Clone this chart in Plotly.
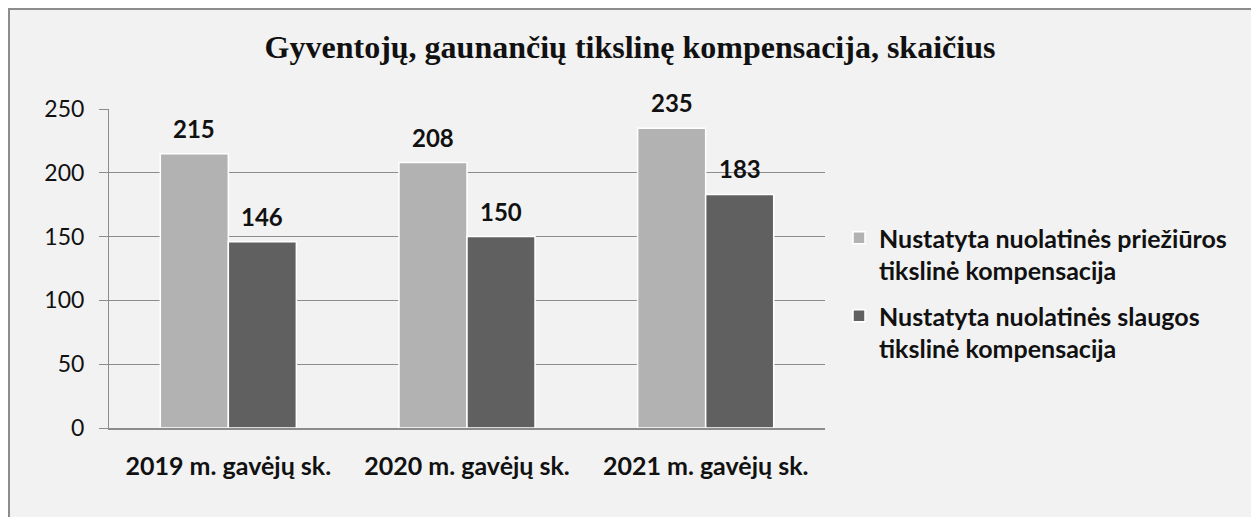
import plotly.graph_objects as go

categories = ["2019 m. gavėjų sk.", "2020 m. gavėjų sk.", "2021 m. gavėjų sk."]
series_names = ["Nustatyta nuolatinės priežiūros<br>tikslinė kompensacija",
                "Nustatyta nuolatinės slaugos<br>tikslinė kompensacija"]
care_values = [215, 208, 235]
nursing_values = [146, 150, 183]
colors = ["#b2b2b2", "#606060"]
title_text = "Gyventojų, gaunančių tikslinę kompensacija, skaičius"

OFF = 8  # page body margin
W, H = 1259, 517
# desired screen coordinates of plot area
SL, SR, ST, SB = 109, 825, 109, 428
L, T = SL - OFF, ST - OFF
R = W - (SR - OFF)
B = H - (SB - OFF)
pw, ph = W - L - R, H - T - B
BARGAP = 0.43

def px_x(sx):
    return (sx - OFF - L) / pw

def px_y(sy):
    return (H - B - (sy - OFF)) / ph

fig = go.Figure()
half_bar = pw / len(categories) * (1 - BARGAP) / 4
annotations = []
for i, (name, vals, col) in enumerate(zip(series_names, [care_values, nursing_values], colors)):
    fig.add_trace(go.Bar(
        x=categories, y=vals, name=name, legendgroup=f"g{i}",
        marker=dict(color=col, line=dict(color="white", width=1.5)),
    ))
    shift = -half_bar if i == 0 else half_bar
    for c, v in zip(categories, vals):
        annotations.append(dict(x=c, y=v, text=str(v), showarrow=False,
                                xshift=shift, yshift=9, yanchor="bottom",
                                font=dict(family="Lato, sans-serif", size=24,
                                          color="#111111", weight="bold")))

fig.update_layout(
    width=W, height=H,
    margin=dict(l=L, r=R, t=T, b=B),
    paper_bgcolor="#ffffff",
    plot_bgcolor="#dae3f3",
    barmode="group", bargap=BARGAP, bargroupgap=0.0,
    title=dict(text=title_text, x=(630 - OFF) / W, xref="container", xanchor="center",
               y=1 - (47 - OFF) / H, yanchor="middle",
               font=dict(family="Liberation Serif, Times New Roman, serif", size=32,
                         color="#111111", weight="bold")),
    font=dict(family="Lato, sans-serif", color="#111111"),
    legend=dict(x=px_x(839), y=px_y(215), xanchor="left", yanchor="top",
                font=dict(size=25, family="Lato, sans-serif", weight="bold", color="#111111"),
                bgcolor="rgba(0,0,0,0)", tracegroupgap=10, itemwidth=30, valign="top"),
    showlegend=True,
    annotations=annotations,
    shapes=[dict(type="rect", xref="paper", yref="paper",
                 x0=px_x(OFF + 1), x1=px_x(1254), y0=px_y(560), y1=px_y(OFF + 1),
                 line=dict(color="#8c8c8c", width=2), fillcolor="#f2f2f2", layer="below")],
)
fig.update_xaxes(showgrid=False, showline=True, linecolor="#8c8c8c", linewidth=1.5,
                 tickfont=dict(size=25, family="Lato, sans-serif", weight="bold", color="#111111"),
                 ticks="", ticklabelstandoff=15)
fig.update_yaxes(range=[0, 250], dtick=50, showgrid=True, gridcolor="#8c8c8c", gridwidth=1.2,
                 zeroline=False, showline=True, linecolor="#8c8c8c", linewidth=1,
                 ticks="outside", ticklen=9, tickcolor="#8c8c8c", ticklabelstandoff=10,
                 tickfont=dict(size=23, family="Lato, sans-serif", color="#111111"))

fig.write_html("out.html")
